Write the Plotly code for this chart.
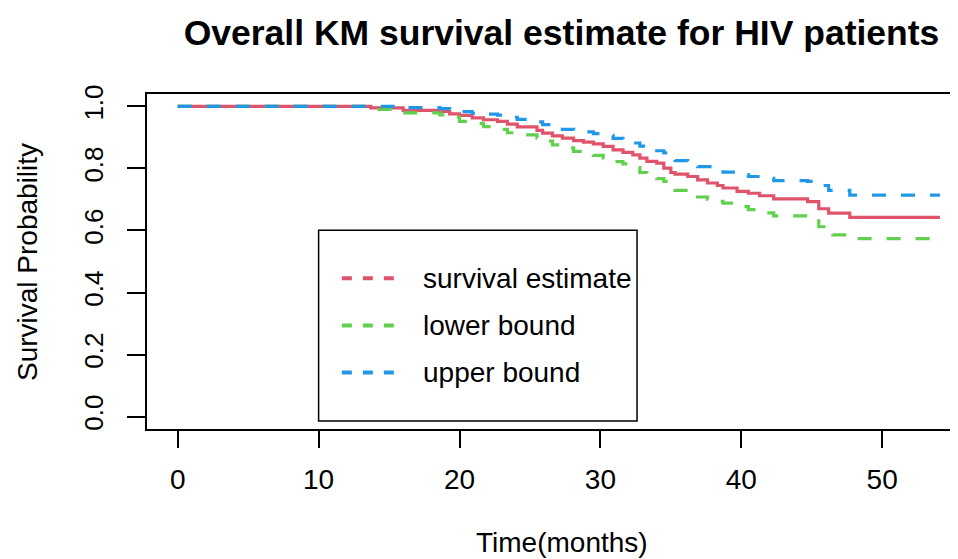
import plotly.graph_objects as go

# ---- data ----
time_months = [0, 13.7, 16.0, 18.6, 19.3, 20.0, 20.9, 21.7, 22.7, 23.4, 24.1, 25.5, 25.9,
               26.6, 27.3, 28.1, 28.8, 29.5, 30.2, 30.9, 31.6, 32.3, 32.8, 33.3, 34.0,
               34.5, 35.0, 35.3, 36.2, 36.9, 37.6, 38.3, 38.7, 39.7, 40.5, 41.3, 42.3,
               44.7, 45.5, 46.2, 46.5, 47.7, 54.1]
survival_estimate = [1.0, 0.995, 0.987, 0.984, 0.976, 0.971, 0.963, 0.957, 0.952, 0.943, 0.934,
                     0.923, 0.914, 0.905, 0.898, 0.890, 0.885, 0.879, 0.871, 0.860, 0.852,
                     0.844, 0.833, 0.823, 0.817, 0.801, 0.787, 0.782, 0.774, 0.763, 0.753,
                     0.745, 0.737, 0.726, 0.720, 0.712, 0.702, 0.693, 0.670, 0.656, 0.656,
                     0.642, 0.642]
lower_bound = [1.0, 0.990, 0.979, 0.973, 0.965, 0.952, 0.945, 0.935, 0.926, 0.915, 0.908,
               0.898, 0.888, 0.876, 0.866, 0.855, 0.850, 0.842, 0.834, 0.822, 0.815,
               0.803, 0.787, 0.780, 0.767, 0.758, 0.745, 0.729, 0.720, 0.708, 0.700,
               0.694, 0.688, 0.677, 0.667, 0.657, 0.647, 0.643, 0.612, 0.600, 0.586,
               0.574, 0.574]
upper_bound = [1.0, 1.0, 0.996, 0.993, 0.990, 0.983, 0.978, 0.975, 0.972, 0.965, 0.958,
               0.950, 0.941, 0.934, 0.926, 0.922, 0.918, 0.912, 0.907, 0.897, 0.890,
               0.882, 0.872, 0.865, 0.857, 0.850, 0.835, 0.825, 0.820, 0.806, 0.806,
               0.796, 0.788, 0.780, 0.774, 0.768, 0.761, 0.758, 0.745, 0.729, 0.729,
               0.714, 0.714]

x_ticks = [0, 10, 20, 30, 40, 50]
y_ticks = [0.0, 0.2, 0.4, 0.6, 0.8, 1.0]
y_tick_labels = ["0.0", "0.2", "0.4", "0.6", "0.8", "1.0"]
legend_labels = ["survival estimate", "lower bound", "upper bound"]

RED, GREEN, BLUE = "#DF536B", "#61D04F", "#2297E6"
FONT = "Liberation Sans, Arial, sans-serif"

OFF = 8  # page body margin in the browser
W, H = 958 - OFF, 559 - OFF
ML, MR, MT = 147 - OFF, 0, 94 - OFF
MB = H - (429 - OFF)
PW, PH = W - ML - MR, H - MT - MB


def px_to_paper(px, py):
    """viewport pixel -> plot-area paper coordinate"""
    fx, fy = px - OFF, py - OFF
    return (fx - ML) / PW, (H - MB - fy) / PH


fig = go.Figure()
fig.add_trace(go.Scatter(x=time_months, y=survival_estimate, mode="lines",
                         line=dict(color=RED, width=3.2, shape="hv"), showlegend=False))
fig.add_trace(go.Scatter(x=time_months, y=lower_bound, mode="lines",
                         line=dict(color=GREEN, width=3.2, shape="hv", dash="14px,15px"),
                         showlegend=False))
fig.add_trace(go.Scatter(x=time_months, y=upper_bound, mode="lines",
                         line=dict(color=BLUE, width=3.2, shape="hv", dash="14px,15px"),
                         showlegend=False))

# ---- manual legend box (R style) ----
leg_x0, leg_x1, leg_y0, leg_y1 = 10.0, 32.6, -0.014, 0.601
fig.add_shape(type="rect", xref="x", yref="y", x0=leg_x0, x1=leg_x1, y0=leg_y0, y1=leg_y1,
              line=dict(color="black", width=1.5), fillcolor="rgba(0,0,0,0)", layer="above")
row_y = [0.446, 0.294, 0.142]
for lab, col, yy in zip(legend_labels, [RED, GREEN, BLUE], row_y):
    fig.add_shape(type="line", xref="x", yref="y", x0=11.65, x1=15.5, y0=yy, y1=yy,
                  line=dict(color=col, width=4, dash="10px,11px"), layer="above")
    fig.add_annotation(x=17.3, y=yy, xref="x", yref="y", text=lab, showarrow=False,
                       xanchor="left", yanchor="middle",
                       font=dict(family=FONT, size=28, color="black"))

# axis titles
ax, ay = px_to_paper(561.5, 542)
fig.add_annotation(x=ax, y=ay, xref="paper", yref="paper",
                   text="Time(months)", showarrow=False, xanchor="center", yanchor="middle",
                   font=dict(family=FONT, size=28, color="black"))
bx, by = px_to_paper(27, 262)
fig.add_annotation(x=bx, y=by, xref="paper", yref="paper",
                   text="Survival Probability", showarrow=False, textangle=-90,
                   xanchor="center", yanchor="middle",
                   font=dict(family=FONT, size=28, color="black"))

fig.update_layout(
    width=W, height=H,
    margin=dict(l=ML, r=MR, t=MT, b=MB, pad=0, autoexpand=False),
    paper_bgcolor="white", plot_bgcolor="white",
    title=dict(text="<b>Overall KM survival estimate for HIV patients</b>",
               x=(561.5 - OFF) / W, xanchor="center", xref="container",
               y=1 - (33 - OFF) / H, yanchor="middle", yref="container",
               font=dict(family=FONT, size=35.5, color="black")),
    xaxis=dict(range=[-2.18, 55.38], tickmode="array", tickvals=x_ticks,
               automargin=False,
               showgrid=False, zeroline=False, showline=True, linecolor="black",
               linewidth=2, mirror=True, ticks="outside", ticklen=17, tickwidth=1.5,
               tickcolor="black", ticklabelstandoff=7,
               tickfont=dict(family=FONT, size=28, color="black")),
    yaxis=dict(range=[-0.04, 1.04], tickmode="array", tickvals=y_ticks,
               ticktext=y_tick_labels, tickangle=-90, automargin=False,
               showgrid=False, zeroline=False, showline=True, linecolor="black",
               linewidth=2, mirror=False, ticks="outside", ticklen=18, tickwidth=1.5,
               tickcolor="black", ticklabelstandoff=14,
               tickfont=dict(family=FONT, size=26, color="black")),
)

fig.write_html("out.html")
